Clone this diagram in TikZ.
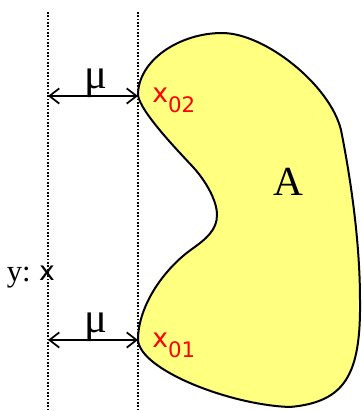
\documentclass[tikz,border=0pt]{standalone}
\usepackage{fontspec}
\setmainfont{Liberation Serif}
\newfontfamily\sansx{DejaVu Sans}
\usetikzlibrary{arrows.meta}
\definecolor{BlobYellow}{HTML}{FFFF80}
\definecolor{PointRed}{HTML}{FF0000}

\begin{document}
\begin{tikzpicture}[x=0.75pt,y=-0.75pt,
    guide/.style={dash pattern=on 1.2pt off 1.3pt,line width=1.3pt},
    dim/.style={{Straight Barb[length=2.6mm,width=4mm]}-{Straight Barb[length=2.6mm,width=4mm]},line width=1.3pt},
    pt/.style={anchor=base west,inner sep=0pt,text=PointRed,font=\sansx\fontsize{20}{24}\selectfont},
    mu/.style={anchor=base,inner sep=0pt,font=\fontsize{32}{34}\selectfont}
  ]
    \useasboundingbox (0,0) rectangle (361,411);
    % the set A
    \draw[line width=1.5pt,fill=BlobYellow] (138,95)
      .. controls (138,60) and (180,33) .. (222,33)
      .. controls (265,33) and (330,85) .. (341,130)
      .. controls (350,175) and (360,240) .. (360,300)
      .. controls (361,375) and (345,402) .. (290,407)
      .. controls (230,405) and (140,370) .. (138,340)
      .. controls (138,305) and (165,268) .. (192,249)
      .. controls (206,239) and (217,230) .. (217,215)
      .. controls (217,200) and (205,180) .. (193,167)
      .. controls (181,154) and (140,112) .. cycle;
    % guide lines
    \coordinate (g1t) at (48,12);  \coordinate (g1b) at (48,411);
    \coordinate (g2t) at (138,12); \coordinate (g2b) at (138,411);
    \draw[guide] (g1t)--(g1b);
    \draw[guide] (g2t)--(g2b);
    % distances
    \coordinate (a2l) at (48,96);  \coordinate (a2r) at (138,96);
    \coordinate (a1l) at (48,340); \coordinate (a1r) at (138,340);
    \draw[dim] (a2l)--(a2r);
    \draw[dim] (a1l)--(a1r);
    \node[mu] (mu2) at (96,88) {μ};
    \node[mu] (mu1) at (96,332) {μ};
    % labels
    \node[pt] (x02) at (152,102) {x\raisebox{-7.5pt}{\fontsize{16}{16}\selectfont 02}};
    \node[pt] (x01) at (152,347) {x\raisebox{-7.5pt}{\fontsize{16}{16}\selectfont 01}};
    \node[anchor=base,inner sep=0pt,font=\fontsize{31}{31}\selectfont] (A) at (288,195) {A};
    \node[anchor=base east,inner sep=0pt,font=\fontsize{23}{24}\selectfont] (ytag) at (31,281) {y:};
    \node[anchor=base,inner sep=0pt,font=\sansx\fontsize{20}{24}\selectfont] (yx) at (47,280) {x};
\end{tikzpicture}
\end{document}
